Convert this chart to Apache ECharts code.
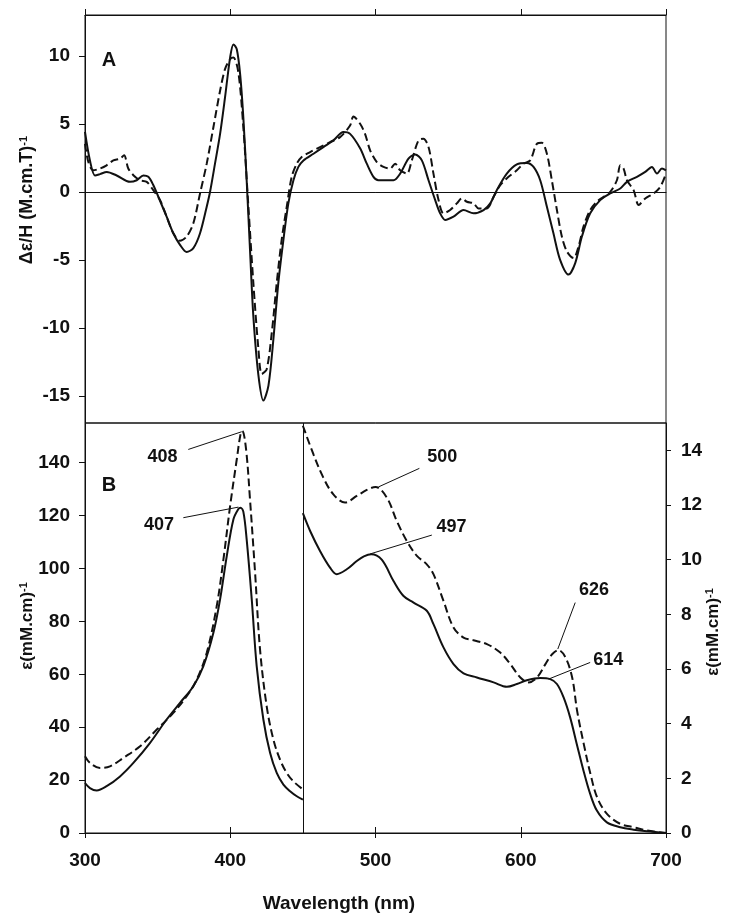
<!DOCTYPE html>
<html><head><meta charset="utf-8">
<script src="https://cdn.jsdelivr.net/npm/echarts@6/dist/echarts.min.js"></script>
<style>html,body{margin:0;padding:0;background:#fff}#c{width:736px;height:923px}</style>
</head><body><div id="c"></div>
<script>
// ---- Panel A: MCD, Δε/H vs wavelength ----
const mcdSolid = [[300,4.4],[303.4,2.3],[306.9,1.2],[310.3,1.3],[315,1.46],[321.8,1.2],[331,0.73],[335.6,0.85],[340.2,1.2],[343.6,1.1],[347,0.5],[350.5,-0.37],[356.2,-1.83],[360.8,-3.05],[365.4,-3.9],[370,-4.43],[374.6,-4.14],[379.2,-3.05],[383.8,-1.1],[386.1,0],[389.5,2.07],[393,4.26],[396.4,6.94],[399.9,9.87],[402.2,10.84],[404.5,10.48],[406.8,8.65],[409,5.48],[411.3,0.85],[413.6,-4.26],[415.9,-9.14],[419.4,-13.5],[422.8,-15.35],[426.3,-14.25],[429.7,-10.84],[433.1,-6.7],[436.6,-3.53],[440,-0.85],[443.5,0.85],[446.9,1.83],[450.4,2.31],[457.3,2.8],[464.1,3.29],[471,3.78],[477.9,4.39],[482.5,4.26],[489.4,3.2],[494,2.07],[498.6,1.1],[502,0.85],[512.4,0.85],[517,1.34],[522.7,2.44],[527.3,2.75],[531.9,2.31],[536.5,0.85],[541.1,-0.61],[544.5,-1.58],[548,-2.07],[553.7,-1.83],[560.6,-1.34],[567.5,-1.58],[574.4,-1.34],[579,-0.85],[583.5,0.12],[590.4,1.34],[597.3,2.02],[604.2,2.12],[608.8,1.83],[613.4,0.85],[618,-1.1],[622.5,-3.05],[627.1,-5.0],[632.9,-6.09],[637.5,-5.24],[642.1,-3.29],[647.8,-1.58],[654.7,-0.61],[661.6,-0.12],[668.5,0.24],[673.1,0.73],[680,1.1],[685.7,1.46],[690.3,1.83],[693.8,1.34],[697.2,1.71],[700,1.58]];
const mcdDashed = [[300,3.53],[302.3,2.19],[305.7,1.58],[310.3,1.71],[314.9,1.95],[319.5,2.31],[324.1,2.44],[326.9,2.68],[329.8,1.71],[333.3,1.22],[337.9,0.85],[342.5,0.73],[347,0.12],[351.7,-0.61],[356.2,-1.83],[360.8,-3.05],[365.4,-3.6],[370,-3.29],[374.6,-2.31],[379.2,-0.12],[383.8,2.07],[388.4,4.75],[393,7.43],[396.4,9.02],[399.9,9.75],[402.2,9.87],[405.6,8.77],[409,4.75],[412.5,-1.1],[415.9,-6.7],[419.4,-11.57],[421.7,-13.4],[425.1,-13.04],[428.6,-10.36],[432,-6.7],[435.4,-3.53],[438.9,-1.1],[442.3,1.1],[445.8,2.07],[449.2,2.56],[455,2.92],[461.8,3.29],[468.7,3.65],[475.6,4.02],[482.5,4.87],[484.8,5.53],[489.4,5.0],[492.8,4.26],[496.3,3.05],[500.9,2.19],[505.5,1.83],[510.1,1.71],[513.5,2.07],[517,1.58],[521.6,1.34],[525,2.31],[529.6,3.78],[533,3.9],[536.5,3.29],[539.9,1.34],[543.4,-0.61],[546.8,-1.58],[551.4,-1.34],[556,-0.85],[559.5,-0.49],[562.9,-0.73],[567.5,-0.85],[570.9,-1.22],[576.7,-1.22],[581.3,-0.37],[585.9,0.49],[591.6,1.1],[597.3,1.58],[601.9,2.07],[606.5,2.31],[611.1,3.53],[614.5,3.6],[618,2.8],[621.4,0.85],[624.9,-1.34],[628.3,-3.29],[631.8,-4.39],[636.4,-4.87],[639.8,-4.02],[643.2,-2.56],[647.8,-1.34],[652.4,-0.73],[657,-0.37],[661.6,0],[666.2,0.85],[668.5,1.95],[670.8,1.71],[673.1,0.85],[677.7,0.12],[681.2,-0.97],[685.7,-0.49],[691.5,-0.12],[696.1,0.37],[700,1.34]];

// ---- Panel B: absorption, left scale (300-450 nm) ----
const absLeftSolid = [[300,18.9],[303.4,17.0],[308,16.1],[314.9,17.7],[324.1,21.4],[333.3,26.5],[344.8,34.1],[356.2,42.9],[365.4,49.2],[374.6,55.5],[381.5,63.1],[388.4,75.7],[393,88.3],[397.6,104.7],[402.2,118.6],[405.6,122.5],[407,123],[409,121.5],[411.3,111],[414.8,88.3],[418.2,63.1],[422.8,42.9],[427.4,30.3],[432,22.7],[436.6,18.3],[441.2,15.8],[445.8,13.9],[450,12.6]];
const absLeftDashed = [[300,29],[303.4,26.5],[310.3,24.6],[317.2,25.2],[326.4,28.4],[337.9,32.8],[349.4,39.1],[360.8,45.4],[370,51.7],[376.9,58],[383.8,68.1],[390.7,85.8],[395.3,103.4],[399.9,123.6],[404.5,141.3],[407,150.5],[408.3,152],[410.9,145],[413.6,126.1],[417.1,98.4],[420.5,69.4],[425.1,47.9],[429.7,35.3],[434.3,27.7],[438.9,22.7],[443.5,19.5],[450,16.5]];

// ---- Panel B: absorption, right scale (450-700 nm) ----
const absRightSolid = [[450,11.7],[455,11.05],[461.8,10.32],[468.7,9.71],[473.3,9.47],[480.2,9.65],[487.1,9.95],[492,10.12],[497,10.2],[504.3,10.0],[512.4,9.22],[519.3,8.67],[526.2,8.43],[535.3,8.13],[539.9,7.64],[546.8,6.79],[553.7,6.18],[560.6,5.84],[569.8,5.69],[581.3,5.51],[590.4,5.35],[597.3,5.45],[604.2,5.59],[613.4,5.67],[620.3,5.63],[624.9,5.45],[629.5,4.96],[634,4.23],[638.6,3.25],[643.2,2.28],[647.8,1.43],[652.4,0.82],[659.3,0.39],[668.5,0.21],[677.7,0.12],[686.9,0.06],[700,0]];
const absRightDashed = [[450,14.9],[457.3,13.85],[464.1,13.0],[471,12.39],[479,12.09],[487.1,12.33],[494,12.55],[500,12.66],[507.8,12.27],[514.6,11.42],[521.6,10.68],[528.5,10.14],[535.3,9.83],[539.9,9.47],[546.8,8.49],[553.7,7.52],[560.6,7.15],[567.5,7.05],[576.7,6.91],[585.9,6.6],[592.8,6.18],[599.7,5.69],[605.5,5.51],[611.2,5.69],[617,6.18],[621.6,6.54],[626,6.69],[630.8,6.42],[635.4,5.69],[638.8,4.47],[643.4,3.25],[648,2.16],[652.6,1.3],[659.5,0.69],[668.7,0.33],[677.9,0.21],[687,0.09],[700,0]];

// ---- ticks ----
const ticksX = [300,400,500,600,700];
const ticksA = [-15,-10,-5,0,5,10];
const ticksBLeft = [0,20,40,60,80,100,120,140];
const ticksBRight = [0,2,4,6,8,10,12,14];

// ---- peak annotations (label point, leader start, leader end) in data units ----
const peakNotesLeft = [
  ['408', [353.4,142], [371.1,145.0], [407.9,151.7]],
  ['407', [351,116.3], [367.7,119.2], [405.6,123.2]]
];
const peakNotesRight = [
  ['500', [545.9,13.77], [530.2,13.34], [502,12.66]],
  ['497', [552.4,11.21], [538.8,10.9], [496.3,10.21]],
  ['626', [650.5,8.89], [637.5,8.43], [625.5,6.73]],
  ['614', [660.2,6.33], [647.8,6.24], [619.1,5.63]]
];

const FONT = '"Liberation Sans", Arial, Helvetica, sans-serif';
const BLACK = '#111';

function noteMarks(notes) {
  return {
    markLine: {
      silent: true, symbol: 'none', animation: false,
      label: {show: false},
      lineStyle: {color: BLACK, width: 1, type: 'solid'},
      data: notes.map(n => [{coord: n[2]}, {coord: n[3]}])
    },
    markPoint: {
      silent: true, symbol: 'circle', symbolSize: 1, animation: false,
      itemStyle: {color: 'rgba(0,0,0,0)'},
      label: {show: true, position: 'inside', color: BLACK, fontFamily: FONT, fontWeight: 'bold', fontSize: 18, formatter: p => p.name},
      data: notes.map(n => ({name: n[0], coord: n[1]}))
    }
  };
}

const labelStyle = {color: BLACK, fontFamily: FONT, fontWeight: 'bold', fontSize: 19};
const axisLineStyle = {show: true, lineStyle: {color: BLACK, width: 1}};

function rotTitle(x, y, main, size) {
  return {type: 'text', x: x, y: y, rotation: Math.PI / 2, style: {
    text: '{m|' + main + '}{s|-1}', align: 'center', verticalAlign: 'middle',
    rich: {m: {fill: BLACK, font: 'bold ' + size + 'px ' + FONT, verticalAlign: 'bottom'}, s: {fill: BLACK, font: 'bold 11px ' + FONT, verticalAlign: 'top'}}
  }};
}

const chart = echarts.init(document.getElementById('c'), null, {renderer: 'canvas'});
const option = {
  animation: false,
  backgroundColor: '#fff',
  grid: [
    {left: 85, top: 15, width: 581, height: 408, show: true, borderColor: BLACK, borderWidth: 1, containLabel: false, outerBoundsMode: 'none'},
    {left: 85, top: 423, width: 581, height: 410, show: true, borderColor: BLACK, borderWidth: 1, containLabel: false, outerBoundsMode: 'none'}
  ],
  xAxis: [
    {gridIndex: 0, type: 'value', position: 'bottom', min: 300, max: 700, interval: 100, axisLine: axisLineStyle, axisTick: {show: false}, axisLabel: {show: false}, splitLine: {show: false}},
    {gridIndex: 0, type: 'value', position: 'top', min: 300, max: 700, interval: 100, axisLine: axisLineStyle, axisTick: {show: true, inside: false, length: 6, lineStyle: {color: BLACK}}, axisLabel: {show: false}, splitLine: {show: false}},
    {gridIndex: 1, type: 'value', position: 'bottom', min: 300, max: 700, interval: 100, axisLine: axisLineStyle, axisTick: {show: true, inside: false, length: 5, lineStyle: {color: BLACK}, customValues: ticksX}, axisLabel: Object.assign({show: true, margin: 18, customValues: ticksX}, labelStyle), splitLine: {show: false}},
    {gridIndex: 1, type: 'value', position: 'top', min: 300, max: 700, interval: 100, axisLine: axisLineStyle, axisTick: {show: true, inside: false, length: 6, lineStyle: {color: BLACK}}, axisLabel: {show: false}, splitLine: {show: false}}
  ],
  yAxis: [
    {gridIndex: 0, type: 'value', position: 'left', min: -17, max: 13, axisLine: axisLineStyle, axisTick: {show: true, inside: false, length: 6, lineStyle: {color: BLACK}, customValues: ticksA}, axisLabel: Object.assign({show: true, margin: 15, customValues: ticksA}, labelStyle), splitLine: {show: false}},
    {gridIndex: 1, type: 'value', position: 'left', min: 0, max: 155, axisLine: axisLineStyle, axisTick: {show: true, inside: false, length: 6, lineStyle: {color: BLACK}, customValues: ticksBLeft}, axisLabel: Object.assign({show: true, margin: 15, customValues: ticksBLeft}, labelStyle), splitLine: {show: false}},
    {gridIndex: 1, type: 'value', position: 'right', min: 0, max: 15, axisLine: axisLineStyle, axisTick: {show: true, inside: false, length: 5, lineStyle: {color: BLACK}, customValues: ticksBRight}, axisLabel: Object.assign({show: true, margin: 15, customValues: ticksBRight}, labelStyle), splitLine: {show: false}}
  ],
  series: [
    {
      type: 'line', xAxisIndex: 0, yAxisIndex: 0, data: mcdSolid, showSymbol: false, smooth: 0.3,
      lineStyle: {color: BLACK, width: 2, type: 'solid'}, z: 3,
      markLine: {silent: true, symbol: 'none', label: {show: false}, lineStyle: {color: BLACK, width: 1, type: 'solid'}, data: [{yAxis: 0}]}
    },
    {type: 'line', xAxisIndex: 0, yAxisIndex: 0, data: mcdDashed, showSymbol: false, smooth: 0.3, lineStyle: {color: BLACK, width: 2, type: [8, 4]}, z: 2},
    Object.assign({
      type: 'line', xAxisIndex: 2, yAxisIndex: 1, data: absLeftSolid, showSymbol: false, smooth: 0.35,
      lineStyle: {color: BLACK, width: 2, type: 'solid'}
    }, noteMarks(peakNotesLeft)),
    {
      type: 'line', xAxisIndex: 2, yAxisIndex: 1, data: absLeftDashed, showSymbol: false, smooth: 0.35,
      lineStyle: {color: BLACK, width: 2, type: [8, 4]},
      markLine: {silent: true, symbol: 'none', label: {show: false}, lineStyle: {color: BLACK, width: 1, type: 'solid'}, data: [{xAxis: 450}]}
    },
    Object.assign({
      type: 'line', xAxisIndex: 2, yAxisIndex: 2, data: absRightSolid, showSymbol: false, smooth: 0.35,
      lineStyle: {color: BLACK, width: 2, type: 'solid'}
    }, noteMarks(peakNotesRight)),
    {type: 'line', xAxisIndex: 2, yAxisIndex: 2, data: absRightDashed, showSymbol: false, smooth: 0.35, lineStyle: {color: BLACK, width: 2, type: [8, 4]}}
  ],
  graphic: [
    {type: 'text', x: 109, y: 60, style: {text: 'A', fill: BLACK, font: 'bold 20px ' + FONT, align: 'center', verticalAlign: 'middle'}},
    {type: 'text', x: 109, y: 485, style: {text: 'B', fill: BLACK, font: 'bold 20px ' + FONT, align: 'center', verticalAlign: 'middle'}},
    {type: 'text', x: 339, y: 904, style: {text: 'Wavelength (nm)', fill: BLACK, font: 'bold 19px ' + FONT, align: 'center', verticalAlign: 'middle'}},
    rotTitle(27, 200, 'Δε/H (M.cm.T)', 18),
    rotTitle(27, 626, 'ε(mM.cm)', 17),
    rotTitle(713, 632, 'ε(mM.cm)', 17)
  ]
};
chart.setOption(option);
</script>
</body></html>
